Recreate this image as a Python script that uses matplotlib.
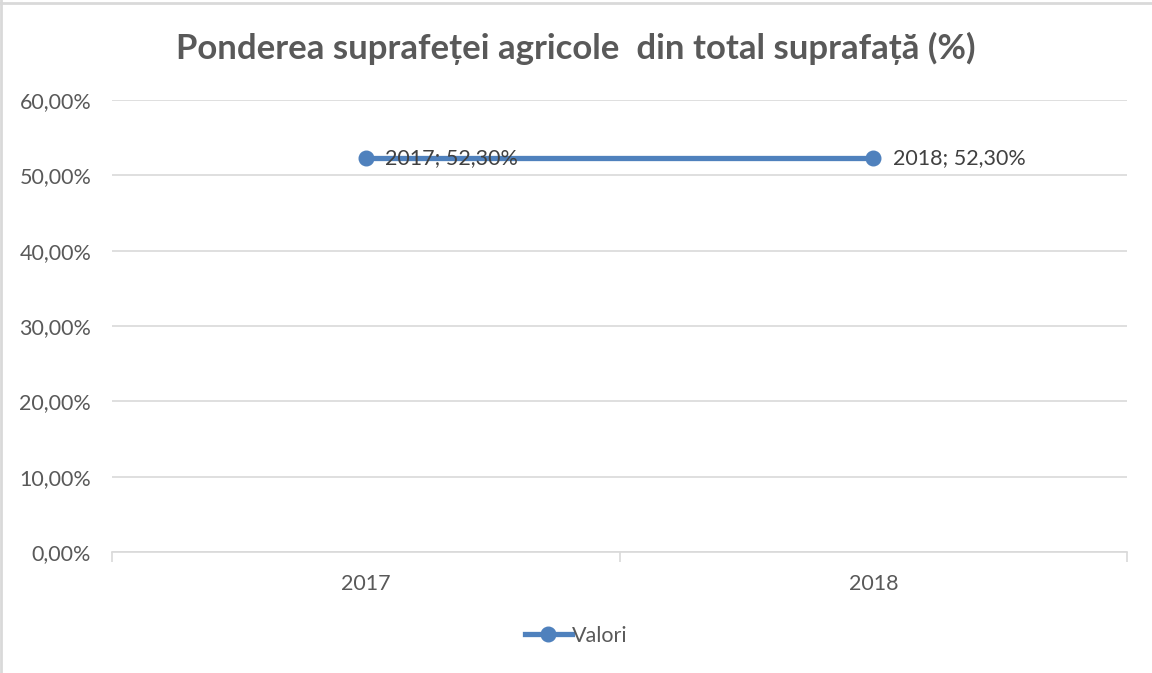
import matplotlib.pyplot as plt
from matplotlib.lines import Line2D

years = ['2017', '2018']
valori = [52.30, 52.30]
y_ticks = [0, 10, 20, 30, 40, 50, 60]

line_color = '#4F81BD'
text_color = '#595959'
grid_color = '#D9D9D9'

plt.rcParams['font.family'] = ['Lato', 'DejaVu Sans']

fig = plt.figure(figsize=(11.52, 6.73), dpi=100)
ax = fig.add_axes([112 / 1152, 121 / 673, 1015 / 1152, 452 / 673])

x = list(range(len(years)))
ax.plot(x, valori, color=line_color, linewidth=3.8, marker='o',
        markersize=10.5, zorder=3, solid_capstyle='butt')

# etichete de date: "an; valoare"
for xi, yr, v in zip(x, years, valori):
    lbl = f'{yr}; {v:.2f}%'.replace('.', ',')
    ax.annotate(lbl, (xi, v), xytext=(14, 0), textcoords='offset points',
                va='center', ha='left', fontsize=15.5, color='#404040', zorder=4)

ax.set_xlim(-0.5, len(years) - 0.5)
ax.set_ylim(0, 60)
ax.set_yticks(y_ticks)
ax.set_yticklabels([f'{t:.2f}%'.replace('.', ',') for t in y_ticks])
ax.set_xticks(x)
ax.set_xticklabels(years)
ax.set_xticks([-0.5, 0.5, 1.5], minor=True)

ax.grid(axis='y', color=grid_color, linewidth=1.2)
ax.set_axisbelow(True)
for s in ['top', 'right', 'left']:
    ax.spines[s].set_visible(False)
ax.spines['bottom'].set_color(grid_color)
ax.spines['bottom'].set_linewidth(1.2)

ax.tick_params(axis='y', length=0, pad=15, labelsize=15.5, labelcolor=text_color)
ax.tick_params(axis='x', which='major', length=0, pad=16, labelsize=15.5,
               labelcolor=text_color)
ax.tick_params(axis='x', which='minor', length=7, color=grid_color, width=1.2)

fig.text(0.5, 1 - 48 / 673, 'Ponderea suprafeței agricole  din total suprafață (%)',
         ha='center', va='center', fontsize=25, fontweight='bold', color=text_color)

handle = Line2D([], [], color=line_color, linewidth=3.8, marker='o', markersize=10.5)
fig.legend([handle], ['Valori'], loc='center', bbox_to_anchor=(0.5, 1 - 636 / 673),
           frameon=False, fontsize=15.5, labelcolor=text_color, handlelength=2.2,
           handletextpad=0.0)

# chenarul graficului (sus si stanga)
fig.add_artist(Line2D([0, 1], [1 - 2.5 / 673, 1 - 2.5 / 673], color='#D9D9D9',
                      linewidth=2, transform=fig.transFigure))
fig.add_artist(Line2D([1 / 1152, 1 / 1152], [0, 1], color='#D9D9D9',
                      linewidth=2, transform=fig.transFigure))

fig.savefig('out.png', dpi=100)
